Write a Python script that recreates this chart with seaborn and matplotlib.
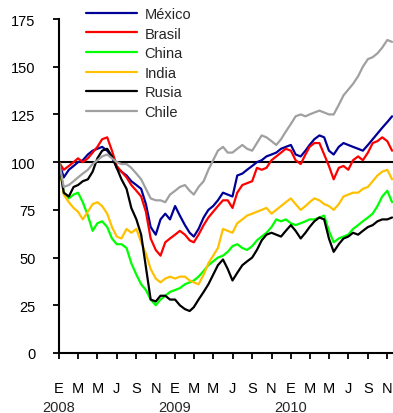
import pandas as pd
import matplotlib
matplotlib.use("Agg")
import matplotlib.pyplot as plt
import matplotlib.transforms as mtransforms
import seaborn as sns

# Stock indices (base 100 = 1 Jan 2008), observations on the 1st and 16th of each month
mexico = [100, 92, 96, 98, 100, 101, 104, 106, 107, 108, 106, 103, 97, 95, 93, 90, 88, 86,
          78, 66, 62, 70, 73, 70, 77, 72, 67, 63, 61, 65, 71, 75, 77, 80, 84, 83, 82, 93,
          94, 96, 98, 100, 101, 103, 104, 105, 107, 108, 109, 104, 103, 106, 109, 112, 114,
          113, 106, 104, 108, 110, 109, 108, 107, 106, 109, 112, 115, 118, 121, 124]
brasil = [100, 96, 98, 100, 102, 100, 102, 105, 108, 112, 113, 106, 98, 95, 92, 88, 85, 82,
          74, 60, 54, 51, 58, 60, 62, 64, 62, 59, 58, 62, 67, 71, 74, 77, 80, 80, 76, 84,
          88, 89, 90, 97, 96, 97, 101, 103, 105, 107, 106, 101, 99, 104, 108, 110, 110,
          104, 98, 91, 97, 98, 96, 101, 103, 101, 105, 110, 111, 113, 111, 106]
china = [100, 84, 81, 83, 84, 79, 72, 64, 68, 69, 66, 60, 57, 57, 55, 47, 41, 36,
         33, 28, 25, 28, 30, 32, 33, 34, 36, 37, 38, 40, 43, 46, 48, 50, 51, 53, 56, 57,
         55, 54, 56, 59, 61, 63, 66, 70, 69, 70, 68, 67, 68, 69, 70, 70, 71,
         72, 64, 58, 60, 61, 62, 65, 67, 69, 71, 73, 77, 82, 85, 79]
india = [100, 83, 79, 76, 74, 70, 74, 78, 79, 77, 73, 66, 61, 60, 65, 63, 65, 58,
         52, 44, 39, 37, 39, 40, 39, 40, 40, 38, 37, 36, 41, 47, 51, 55, 65, 64, 63, 68,
         70, 72, 73, 74, 75, 76, 73, 75, 77, 79, 81, 78, 75, 77, 79, 81, 80,
         78, 77, 75, 78, 82, 83, 84, 84, 86, 87, 90, 93, 95, 96, 91]
rusia = [100, 84, 82, 87, 88, 90, 91, 95, 102, 106, 107, 103, 97, 91, 86, 76, 70, 62,
         45, 28, 27, 30, 30, 28, 28, 25, 23, 22, 24, 28, 32, 36, 41, 46, 49, 44, 38, 42,
         46, 48, 50, 54, 59, 62, 63, 62, 61, 64, 67, 64, 60, 63, 66, 69, 71,
         70, 60, 53, 57, 60, 61, 63, 62, 64, 66, 67, 69, 70, 70, 71]
chile = [100, 87, 88, 90, 92, 94, 96, 99, 101, 103, 104, 102, 100, 99, 99, 97, 94, 91,
         86, 81, 80, 80, 79, 83, 85, 87, 88, 85, 83, 87, 90, 96, 101, 106, 108, 105, 105, 107,
         109, 107, 106, 110, 114, 113, 111, 109, 112, 116, 120, 124, 125, 124, 125, 126, 127,
         126, 125, 125, 130, 135, 138, 141, 145, 150, 154, 155, 157, 160, 164, 163]

countries = ["México", "Brasil", "China", "India", "Rusia", "Chile"]
series = [mexico, brasil, china, india, rusia, chile]
colors = ["#000099", "#FF0000", "#00FF00", "#FFC000", "#000000", "#A0A0A0"]
month_letters = ["E", "M", "M", "J", "S", "N"]
years = [2008, 2009, 2010]

n_obs = len(mexico)
dates = [pd.Timestamp(2008 + (k // 2) // 12, (k // 2) % 12 + 1, 1 if k % 2 == 0 else 16)
         for k in range(n_obs)]

df = pd.concat(
    [pd.DataFrame({"fecha": dates, "indice": vals, "pais": name})
     for name, vals in zip(countries, series)],
    ignore_index=True,
)

sns.set_style("ticks")
plt.rcParams["font.family"] = ["Liberation Sans", "DejaVu Sans"]
plt.rcParams["font.size"] = 10.5

fig = plt.figure(figsize=(3.93, 4.14), dpi=100)
ax = fig.add_axes([59 / 393, 60 / 414, 334 / 393, 334 / 414])

ax.axhline(100, color="black", lw=1.5, zorder=1)
sns.lineplot(data=df, x="fecha", y="indice", hue="pais", hue_order=countries,
             palette=dict(zip(countries, colors)), linewidth=1.6, ax=ax, zorder=2)

ax.set_ylim(0, 175)
ax.set_yticks(range(0, 176, 25))
ax.set_xlim(pd.Timestamp(2008, 1, 1), pd.Timestamp(2010, 11, 19))
tick_dates = [pd.Timestamp(y, m, 1) for y in years for m in (1, 3, 5, 7, 9, 11)]
ax.set_xticks(tick_dates)
ax.set_xticklabels(month_letters * len(years))
ax.set_xlabel("")
ax.set_ylabel("")

for side in ("top", "right"):
    ax.spines[side].set_visible(False)
for side in ("left", "bottom"):
    ax.spines[side].set_linewidth(1.5)
    ax.spines[side].set_color("black")
ax.tick_params(axis="y", direction="out", length=4, width=1.3, pad=13, colors="black",
               labelsize=10.5)
ax.tick_params(axis="x", direction="out", length=4, width=1.3, pad=16, colors="black",
               labelsize=10.5)

trans = mtransforms.blended_transform_factory(ax.transData, ax.transAxes)
for y in years:
    ax.text(pd.Timestamp(y, 1, 1), -0.162, str(y), transform=trans,
            ha="center", va="center", fontsize=10.5)

handles, labels = ax.get_legend_handles_labels()
ax.get_legend().remove()
fig.legend(handles, labels, loc="upper left", bbox_to_anchor=(86 / 393, 1 - 8 / 414),
           bbox_transform=fig.transFigure, frameon=False, borderpad=0,
           borderaxespad=0, handlelength=3.5, handletextpad=0.5, labelspacing=0.38,
           fontsize=10.5)

fig.savefig("out.png", dpi=100)
